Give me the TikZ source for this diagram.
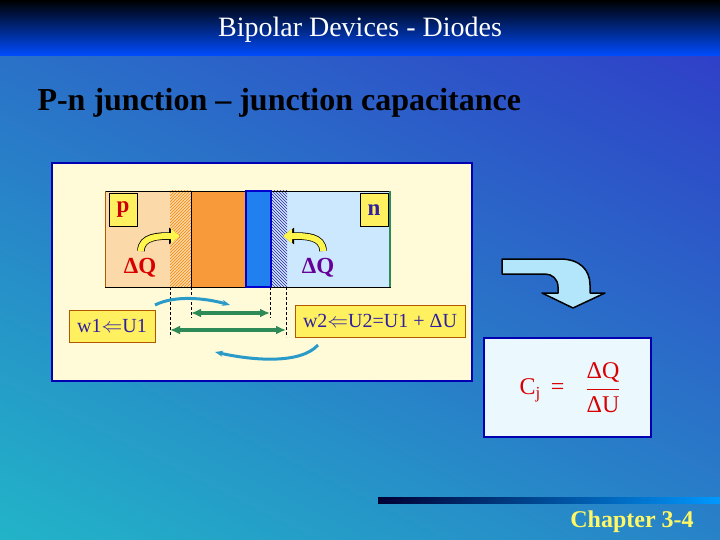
\documentclass[tikz,border=0pt]{standalone}
\usepackage{fontspec}
\setmainfont{Liberation Serif}
\usetikzlibrary{patterns,arrows.meta,shadings}
\definecolor{bgA}{HTML}{22B4C8}
\definecolor{bgB}{HTML}{3038C8}
\definecolor{panel}{HTML}{FFFBD8}
\definecolor{pcol}{HTML}{FBD9A8}
\definecolor{ocol}{HTML}{F99A3A}
\definecolor{bcol}{HTML}{2080F0}
\definecolor{ncol}{HTML}{CCE8FF}
\definecolor{gcol}{HTML}{2E8B57}
\definecolor{navy}{HTML}{3020A0}
\definecolor{lbl}{HTML}{FFF060}
\tikzset{
 lab/.style={draw=black,fill=lbl,font=\bfseries\fontsize{23}{23}\selectfont,inner sep=0pt,minimum width=28pt,minimum height=33pt},
 wbox/.style={draw=orange!70!black,fill=lbl,font=\fontsize{20}{20}\selectfont,text=navy,inner xsep=8pt,minimum height=32pt},
 dq/.style={font=\bfseries\fontsize{23}{23}\selectfont},
 dl/.style={densely dashed,black},
 garr/.style={{Latex[length=10pt,width=9pt]}-{Latex[length=10pt,width=9pt]},draw=gcol,line width=4pt},
 yarr/.style={-{Triangle[length=9pt,width=14pt]},line width=6pt,yellow!70!white,preaction={draw=black,line width=7.5pt,-{Triangle[length=11pt,width=16pt]}}},
 carr/.style={-{Stealth[length=8pt]},line width=3pt,cyan!60!teal}
}
\begin{document}
\begin{tikzpicture}[x=1pt,y=-1pt]
\useasboundingbox (0,0) rectangle (720,540);
\shade[lower left=bgA,upper right=bgB,lower right=bgA!60!bgB,upper left=bgA!40!bgB] (0,540) rectangle (720,0);
\shade[top color=black,bottom color=blue!70!cyan] (0,0) rectangle (720,56);
\node[text=white,font=\fontsize{28}{28}\selectfont] (hdr) at (360,30) {Bipolar Devices - Diodes};
\node[anchor=west,font=\bfseries\fontsize{32}{32}\selectfont] (ttl) at (34,103) {P-n junction – junction capacitance};
% panel
\draw[fill=panel,draw=blue!70!black,line width=2pt] (52,163) rectangle (472,381);
\fill[pcol] (105,191) rectangle (191,287);
\fill[pattern=north east lines,pattern color=orange] (170,191) rectangle (191,287);
\fill[ncol] (271,191) rectangle (390,287);
\fill[pattern=north west lines,pattern color=navy] (271,191) rectangle (287,287);
\draw[black] (105,191) -- (391,191) (105,287) -- (391,287);
\draw[orange!70!black,line width=1pt] (105,191) -- (105,287);
\draw[gcol,line width=2pt] (390,191) -- (390,287);
\draw[fill=ocol,draw=black] (191,191) rectangle (245,287);
\draw[fill=bcol,draw=blue!80!black,line width=1.2pt] (246,191) rectangle (271,287);
\node[lab,text=red!80!black] (p) at (123,210) {p};
\node[lab,text=navy] (n) at (374,210) {n};
\node[dq,text=red!85!black] (dq1) at (140,268) {ΔQ};
\node[dq,text=blue!60!red] (dq2) at (318,268) {ΔQ};
\draw[yarr] (141,251) .. controls (141,236) and (160,236) .. (180,236);
\draw[yarr] (323,251) .. controls (323,236) and (305,236) .. (283,236);
% dims
\coordinate (a1) at (170,287); \coordinate (a2) at (170,337);
\coordinate (b1) at (191,287); \coordinate (b2) at (191,318);
\coordinate (c1) at (270,287); \coordinate (c2) at (270,318);
\coordinate (d1) at (286,287); \coordinate (d2) at (286,337);
\draw[dl] (a1)--(a2) (b1)--(b2) (c1)--(c2) (d1)--(d2);
\coordinate (e1) at (191,313); \coordinate (e2) at (270,313);
\coordinate (f1) at (170,330); \coordinate (f2) at (286,330);
\draw[garr] (e1)--(e2);
\draw[garr] (f1)--(f2);
\node[wbox] (w1) at (112,326) {w1$\Leftarrow$U1};
\node[wbox] (w2) at (380,321) {w2$\Leftarrow$U2=U1 + ΔU};
\coordinate (g1) at (155,305); \coordinate (g2) at (230,305);
\draw[carr] (g1) .. controls (175,295) and (205,298) .. (g2);
\coordinate (h1) at (318,345); \coordinate (h2) at (215,352);
\draw[carr] (h1) .. controls (300,365) and (250,360) .. (h2);
% big arrow
\draw[fill=cyan!30!white,draw=black,line width=1.5pt,line join=round]
 (502,259) -- (560,259) .. controls (580,259) and (590,270) .. (590,285) -- (590,293) -- (605,293)
 -- (573,308) -- (542,293) -- (558,293) -- (558,287) .. controls (558,279) and (552,274) .. (545,274) -- (502,274) -- cycle;
% formula box
\draw[fill=cyan!8!white,draw=blue!70!black,line width=2pt] (484,338) rectangle (651,437);
\node[text=red!85!black,font=\fontsize{24}{24}\selectfont] (cj) at (542,390) {C\textsubscript{j} \,=};
\node[text=red!85!black,font=\fontsize{24}{24}\selectfont] (fr) at (603,388) {$\displaystyle\frac{\hbox{ΔQ}}{\hbox{ΔU}}$};
% bottom line
\shade[left color=black!80!blue,right color=cyan!60!blue] (378,497) rectangle (720,503);
\node[text=yellow!60!white,font=\bfseries\fontsize{24}{24}\selectfont] (ch) at (632,522) {Chapter 3-4};
\end{tikzpicture}
\end{document}
